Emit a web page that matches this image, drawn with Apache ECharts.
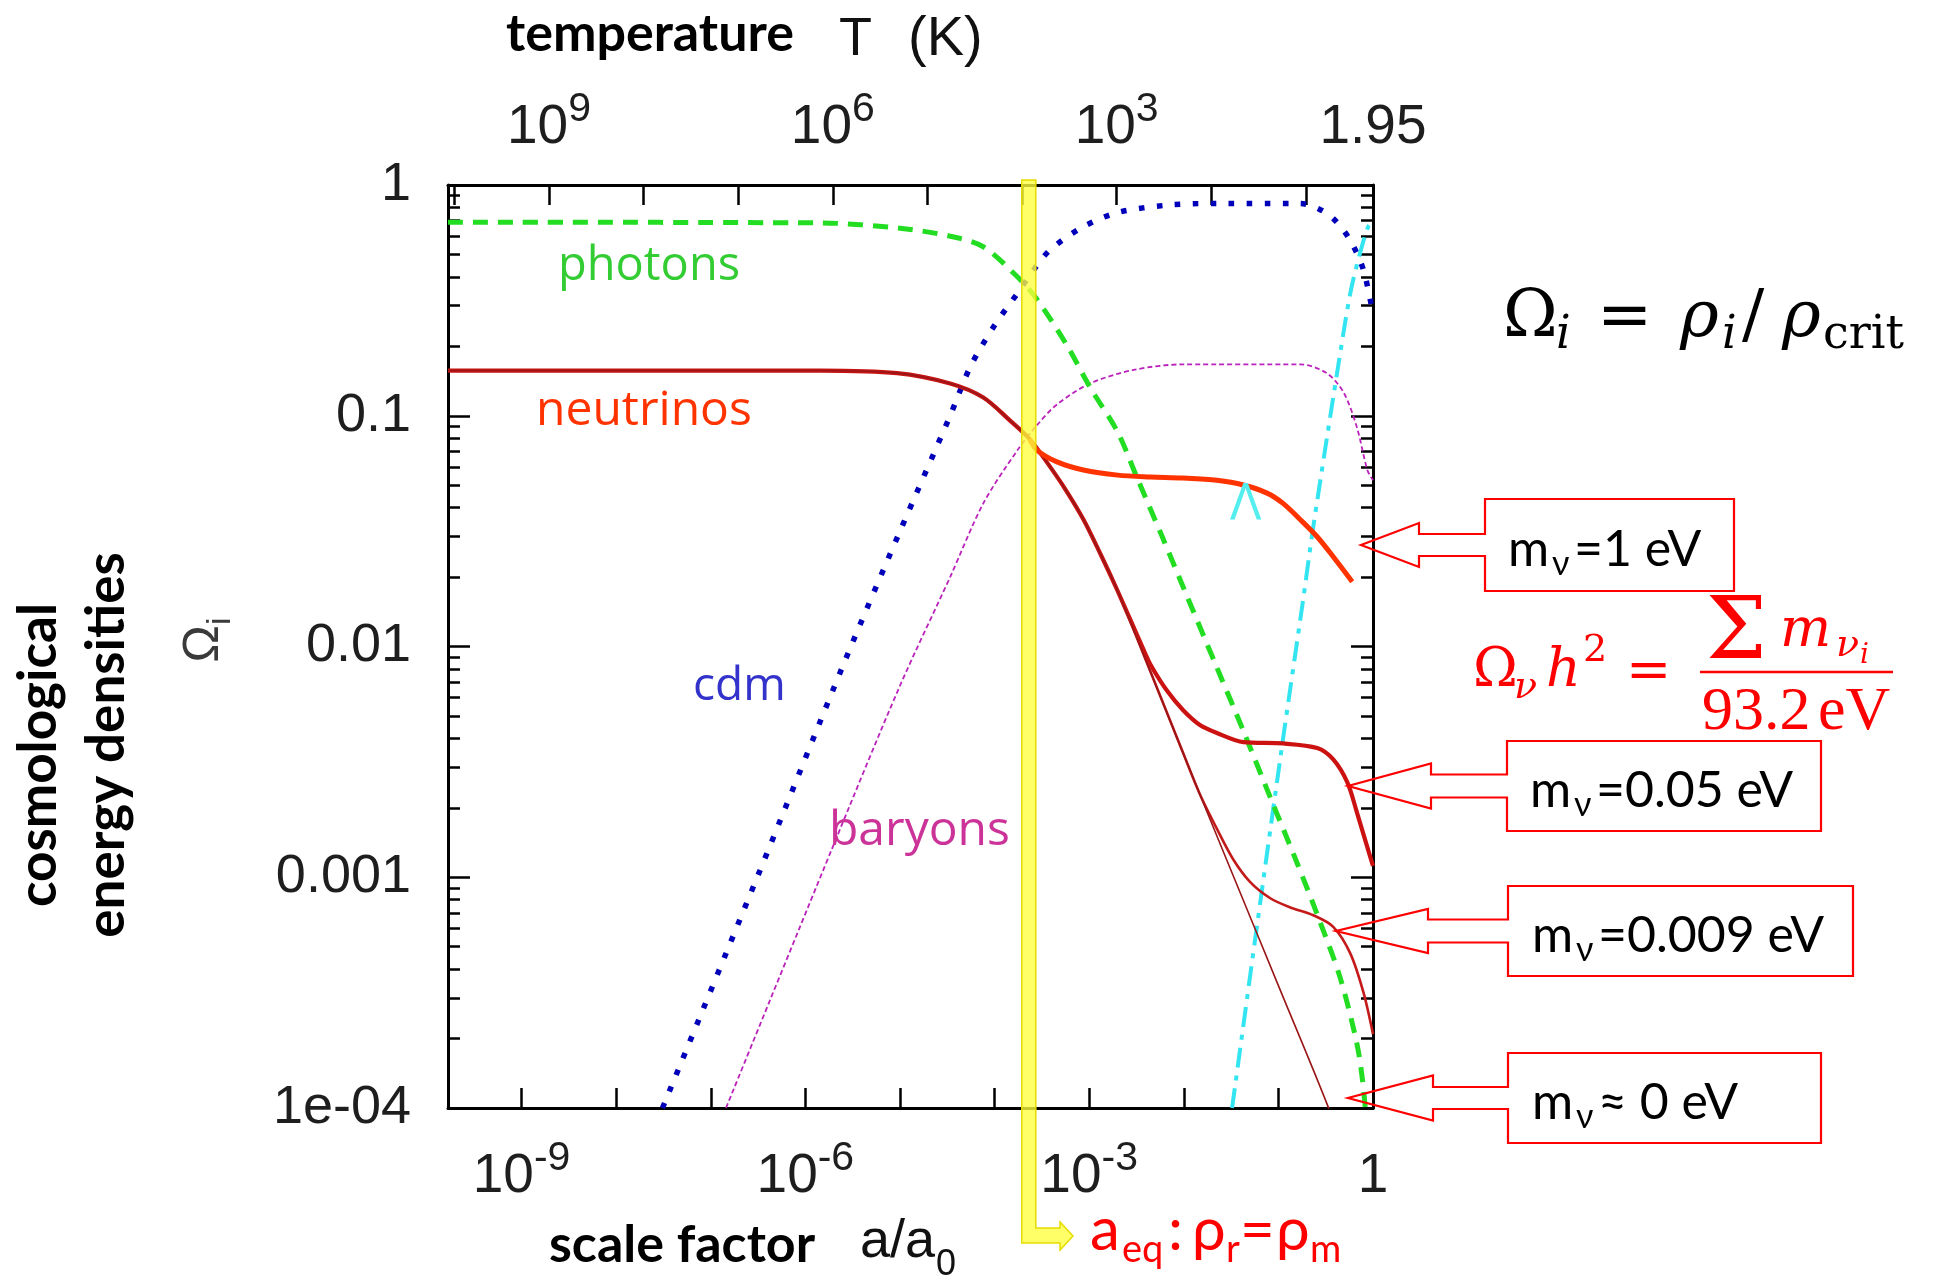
<!DOCTYPE html>
<html><head><meta charset="utf-8">
<script src="https://cdn.jsdelivr.net/npm/echarts@6/dist/echarts.min.js"></script>
<style>html,body{margin:0;padding:0;background:#fff}#chart{width:1934px;height:1281px}</style>
</head><body><div id="chart"></div>
<script>
// ---------- axis ranges & ticks ----------
const A_MIN = 1.67e-10, A_MAX = 1;          // scale factor a/a0
const T_TODAY = 1.95;                       // temperature at a = 1 (K)
const OMEGA_MIN = 1e-4, OMEGA_MAX = 1;
const scaleTicks  = [1e-9,1e-8,1e-7,1e-6,1e-5,1e-4,1e-3,1e-2,1e-1,1];
const scaleLabels = [1e-9,1e-6,1e-3,1];
const tempTicks   = [1e10,1e9,1e8,1e7,1e6,1e5,1e4,1e3,1e2,1e1];
const tempLabels  = [1e9,1e6,1e3,1.95];
const omegaTickValues = [1e-4,1e-3,1e-2,1e-1,1];
const omegaTickText   = ['1e-04','0.001','0.01','0.1','1'];
const aEq = 2.3e-4;

// ---------- series ----------
const photonsA = [1.67e-10,1.45e-6,1e-5,3.4e-5,7.6e-5,1.74e-4,2.8e-4,5.9e-4,1.02e-3,2.0e-3,3.2e-3,6.0e-3,9.8e-3,0.0224,0.0427,0.0813,0.158,0.257,0.447,0.676,0.785,0.87];
const photonsOmega = [0.69,0.685,0.65,0.60,0.54,0.40,0.32,0.20,0.133,0.085,0.054,0.0295,0.0182,0.0081,0.0043,0.00224,0.00115,6.9e-4,3.7e-4,1.9e-4,1.26e-4,7.9e-5];

const cdmA = [3.09e-8,3.16e-7,2.57e-6,1e-5,3.39e-5,5.5e-5,9.77e-5,1.74e-4,2.57e-4,3.89e-4,8.7e-4,2.0e-3,6.76e-3,0.0224,0.17,0.257,0.38,0.575,0.794,1];
const cdmOmega = [1e-4,1.02e-3,8.5e-3,0.0316,0.1,0.162,0.243,0.339,0.427,0.525,0.66,0.76,0.818,0.832,0.832,0.794,0.716,0.575,0.427,0.275];

const baryonsA = [1.45e-7,1.9e-6,1e-5,3.39e-5,7.6e-5,1.74e-4,2.82e-4,4.57e-4,1.02e-3,2.95e-3,9.8e-3,0.17,0.324,0.49,0.676,0.871,1];
const baryonsOmega = [1e-4,1.32e-3,6.76e-3,0.02,0.0417,0.0708,0.0912,0.112,0.138,0.158,0.167,0.167,0.153,0.126,0.0891,0.0582,0.0525];

const lambdaA = [0.0324,0.0589,0.112,0.182,0.234,0.417,0.575,0.724,0.891,1];
const lambdaOmega = [1e-4,6.0e-4,3.98e-3,0.0158,0.0331,0.153,0.339,0.501,0.661,0.69];

const nuCommonA = [1.67e-10,1.45e-6,9.3e-6,3.39e-5,7.6e-5,1.45e-4,2.34e-4];
const nuCommonOmega = [0.157,0.157,0.153,0.138,0.120,0.0955,0.0794];

const nuMasslessA = [3.55e-4,5.62e-4,8.7e-4,1.32e-3,2.0e-3,3.72e-3,0.01,0.0316,0.1,0.324,0.5];
const nuMasslessOmega = [0.0631,0.0479,0.0355,0.0251,0.0174,0.00933,0.00339,0.00107,3.39e-4,1.05e-4,6.3e-5];

const nu0009A = [3.55e-4,5.62e-4,8.7e-4,1.32e-3,2.0e-3,3.72e-3,9.8e-3,0.0148,0.0224,0.0331,0.0501,0.0813,0.132,0.234,0.38,0.575,0.794,1];
const nu0009Omega = [0.0631,0.0479,0.0355,0.0251,0.0174,0.00933,0.00347,0.00229,0.00162,0.0012,9.55e-4,8.13e-4,7.41e-4,6.84e-4,6.1e-4,4.68e-4,3.16e-4,2.09e-4];

const nu005A = [3.55e-4,5.62e-4,8.7e-4,1.32e-3,2.0e-3,3.72e-3,4.47e-3,6.6e-3,9.8e-3,0.0148,0.0224,0.0427,0.112,0.257,0.38,0.537,0.676,0.871,1];
const nu005Omega = [0.0631,0.0479,0.0355,0.0251,0.0174,0.00977,0.00832,0.00646,0.00531,0.00457,0.00422,0.00385,0.0038,0.00363,0.00324,0.00257,0.00191,0.00135,0.00112];

const nu1A = [2.82e-4,4.57e-4,8.7e-4,2.0e-3,4.47e-3,9.8e-3,0.0224,0.0427,0.0759,0.112,0.17,0.257,0.38,0.603];
const nu1Omega = [0.0708,0.0631,0.0582,0.0553,0.0543,0.0537,0.0525,0.0501,0.0462,0.0417,0.0355,0.0299,0.0245,0.0191];

// ---------- helpers ----------
const pair = (xs, ys) => xs.map((x, i) => [x, ys[i]]);
const mctx = document.createElement('canvas').getContext('2d');
function fstr(p){ return (p.style||'normal')+' '+(p.weight||'normal')+' '+p.fs+'px '+p.family; }
function tw(p){ mctx.font = fstr(p); return mctx.measureText(p.t).width; }
const KMID = 0.28;
function txt(x, baseline, t, fs, family, color, opt){
  opt = opt || {};
  return {type:'text', x:x, y: baseline - KMID*fs, z:100, silent:true,
    style:{text:t, fill:color, fontSize:fs, fontFamily:family, fontWeight:opt.weight||'normal',
      fontStyle:opt.style||'normal', align:opt.align||'left', textAlign:opt.align||'left',
      verticalAlign:'middle', textVerticalAlign:'middle'}};
}
function rotText(cx, cy, parts, color){
  let total = 0; parts.forEach(p => total += tw(p) + (p.dx||0));
  let x = -total/2; const children = [];
  parts.forEach(p => {
    x += p.dx||0;
    children.push({type:'text', x:x, y:(p.dy||0) - KMID*p.fs + 0.18*parts[0].fs, silent:true,
      style:{text:p.t, fill:p.color||color, fontSize:p.fs, fontFamily:p.family, fontWeight:p.weight||'normal',
        fontStyle:p.style||'normal', align:'left', textAlign:'left', verticalAlign:'middle', textVerticalAlign:'middle'}});
    x += tw(p);
  });
  return {type:'group', x:cx, y:cy, rotation:Math.PI/2, z:100, children:children};
}
function callout(tipX, tipY, headX, headH, shaftH, x1, y1, x2, y2){
  return {type:'polygon', z:90, silent:true,
    shape:{points:[[x1,y1],[x2,y1],[x2,y2],[x1,y2],[x1,tipY+shaftH],[headX,tipY+shaftH],[headX,tipY+headH],
      [tipX,tipY],[headX,tipY-headH],[headX,tipY-shaftH],[x1,tipY-shaftH]]},
    style:{fill:'none', stroke:'#ff0000', lineWidth:2.2}};
}
function powLabel(v){
  if (Math.abs(v - T_TODAY) < 1e-6) return '{b|1.95}';
  const e = Math.round(Math.log10(v));
  if (e === 0) return '{b|1}';
  return '{b|10}{s|' + e + '}';
}
const richPow = {
  b:{fontSize:55, fontFamily:'Liberation Sans', color:'#1e1e1e', lineHeight:66, verticalAlign:'bottom'},
  s:{fontSize:41, fontFamily:'Liberation Sans', color:'#1e1e1e', lineHeight:28, verticalAlign:'top'}
};
const axisLine = {show:true, onZero:false, lineStyle:{color:'#000', width:3}};

const SANS = 'Liberation Sans', BOLD = 'Lato', SERIF = 'DejaVu Serif', LBL = 'Open Sans';

function lineSeries(name, data, color, width, type, z){
  return {type:'line', name:name, data:data, xAxisIndex:0, yAxisIndex:0, showSymbol:false, symbol:'none',
    smooth:0.3, clip:true, z:z||2, silent:true,
    lineStyle:{color:color, width:width, type:type||'solid', cap:'butt', join:'round'}};
}

const chart = echarts.init(document.getElementById('chart'), null, {renderer:'canvas'});
const option = {
  animation:false,
  backgroundColor:'#ffffff',
  grid:{left:448, top:185, width:925, height:923, containLabel:false, outerBoundsMode:'none'},
  xAxis:[
    {type:'log', logBase:10, min:A_MIN, max:A_MAX, position:'bottom', axisLine:axisLine,
     axisTick:{show:true, inside:true, length:20, lineStyle:{color:'#000', width:2.5}, customValues:scaleTicks},
     axisLabel:{show:true, customValues:scaleLabels, margin:30, formatter:powLabel, rich:richPow},
     splitLine:{show:false}, minorTick:{show:false}},
    {type:'log', logBase:10, min:T_TODAY, max:T_TODAY/A_MIN, inverse:true, position:'top', axisLine:axisLine,
     axisTick:{show:true, inside:true, length:20, lineStyle:{color:'#000', width:2.5}, customValues:tempTicks},
     axisLabel:{show:true, customValues:tempLabels, margin:30, formatter:powLabel, rich:richPow},
     splitLine:{show:false}, minorTick:{show:false}}
  ],
  yAxis:[
    {type:'log', logBase:10, min:OMEGA_MIN, max:OMEGA_MAX, position:'left', axisLine:axisLine,
     axisTick:{show:true, inside:true, length:22, lineStyle:{color:'#000', width:2.5}, customValues:omegaTickValues},
     minorTick:{show:true, splitNumber:9, length:12, lineStyle:{color:'#000', width:2.5}},
     axisLabel:{show:true, customValues:omegaTickValues, margin:37, fontSize:54, fontFamily:SANS, color:'#1e1e1e',
       formatter:v => omegaTickText[Math.round(Math.log10(v)) + 4]},
     splitLine:{show:false}},
    {type:'log', logBase:10, min:OMEGA_MIN, max:OMEGA_MAX, position:'right', axisLine:axisLine,
     axisTick:{show:true, inside:true, length:22, lineStyle:{color:'#000', width:2.5}, customValues:omegaTickValues},
     minorTick:{show:true, splitNumber:9, length:12, lineStyle:{color:'#000', width:2.5}},
     axisLabel:{show:false}, splitLine:{show:false}}
  ],
  series:[
    lineSeries('baryons', pair(baryonsA, baryonsOmega), '#bb22bb', 1.8, [5,3], 2),
    lineSeries('cdm', pair(cdmA, cdmOmega), '#0000bb', 5.5, [5.5,12.5], 3),
    lineSeries('Lambda', pair(lambdaA, lambdaOmega), '#33e5f0', 4, [20,8,5,8], 3),
    lineSeries('photons', pair(photonsA, photonsOmega), '#22dd22', 5, [15,10], 4),
    lineSeries('m=0.05 eV', pair(nuCommonA.concat(nu005A), nuCommonOmega.concat(nu005Omega)), '#cc1111', 4.2, 'solid', 5),
    lineSeries('m=0.009 eV', pair(nuCommonA.concat(nu0009A), nuCommonOmega.concat(nu0009Omega)), '#c41a1a', 2.6, 'solid', 6),
    lineSeries('m=0 eV', pair(nuCommonA.concat(nuMasslessA), nuCommonOmega.concat(nuMasslessOmega)), '#9a1515', 1.6, 'solid', 7),
    lineSeries('m=1 eV', pair([nuCommonA[nuCommonA.length-1]].concat(nu1A), [nuCommonOmega[nuCommonOmega.length-1]].concat(nu1Omega)), '#ff3300', 5, 'solid', 8)
  ]
};
chart.setOption(option);

// ---------- annotations ----------
const xEq = chart.convertToPixel({xAxisIndex:0}, aEq);
const bx1 = xEq - 7, bx2 = xEq + 7;
const els = [];
els.push({type:'polygon', z:95, silent:true,
  shape:{points:[[bx1,180],[bx2,180],[bx2,1228],[1060,1228],[1060,1222],[1073,1236],[1060,1250],[1060,1243],[bx1,1243]]},
  style:{fill:'rgba(255,255,60,0.78)', stroke:'#e6dc00', lineWidth:1.5}});

// titles
els.push(txt(506, 49, 'temperature', 52, BOLD, '#000', {weight:'bold'}));
els.push(txt(839, 55, 'T', 54, SANS, '#111'));
els.push(txt(908, 55, '(K)', 56, SANS, '#111'));
els.push(txt(549, 1260, 'scale factor', 52, BOLD, '#000', {weight:'bold'}));
els.push(txt(860, 1257, 'a/a', 54, SANS, '#111'));
els.push(txt(936, 1275, '0', 36, SANS, '#111'));
els.push(rotText(44, 755, [{t:'cosmological', fs:53, family:BOLD, weight:'bold'}], '#000'));
els.push(rotText(112, 745, [{t:'energy densities', fs:53, family:BOLD, weight:'bold'}], '#000'));
els.push(rotText(209, 640, [{t:'Ω', fs:50, family:SANS}, {t:'i', fs:34, family:SANS, dy:12}], '#3a3a3a'));

// curve labels
els.push(txt(558, 280, 'photons', 47, LBL, '#33cc33'));
els.push(txt(536, 425, 'neutrinos', 48, LBL, '#ff3300'));
els.push(txt(693, 700, 'cdm', 46, LBL, '#3333cc'));
els.push(txt(829, 845, 'baryons', 48, LBL, '#cc3399'));
els.push(txt(1230, 520, 'Λ', 52, LBL, '#55eeee'));

// a_eq label
const R = '#ff0000';
els.push(txt(1090, 1247, 'a', 60, BOLD, R));
els.push(txt(1122, 1260, 'eq', 38, BOLD, R));
els.push(txt(1168, 1247, ':', 60, BOLD, R));
els.push(txt(1192, 1247, 'ρ', 60, BOLD, R));
els.push(txt(1226, 1260, 'r', 38, BOLD, R));
els.push(txt(1240, 1247, '=', 60, BOLD, R));
els.push(txt(1276, 1247, 'ρ', 60, BOLD, R));
els.push(txt(1310, 1260, 'm', 38, BOLD, R));

// formula Omega_i = rho_i / rho_crit
els.push(txt(1503, 337, 'Ω', 66, SERIF, '#000'));
els.push(txt(1556, 349, 'i', 46, SERIF, '#000', {style:'italic'}));
els.push(txt(1597, 337, '=', 66, SERIF, '#000'));
els.push(txt(1680, 337, 'ρ', 66, SERIF, '#000', {style:'italic'}));
els.push(txt(1722, 349, 'i', 46, SERIF, '#000', {style:'italic'}));
els.push(txt(1742, 337, '/', 66, SERIF, '#000'));
els.push(txt(1782, 337, 'ρ', 66, SERIF, '#000', {style:'italic'}));
els.push(txt(1823, 349, 'crit', 46, SERIF, '#000'));

// formula Omega_nu h^2 = sum m / 93.2 eV
els.push(txt(1473, 687, 'Ω', 54, SERIF, R));
els.push(txt(1514, 699, 'ν', 38, SERIF, R, {style:'italic'}));
els.push(txt(1546, 687, 'h', 54, SERIF, R, {style:'italic'}));
els.push(txt(1583, 662, '2', 38, SERIF, R));
els.push(txt(1626, 689, '=', 54, SERIF, R));
els.push(txt(1706, 660, 'Σ', 86, SERIF, R));
els.push(txt(1780, 647, 'm', 54, SERIF, R, {style:'italic'}));
els.push(txt(1836, 657, 'ν', 38, SERIF, R, {style:'italic'}));
els.push(txt(1860, 664, 'i', 28, SERIF, R, {style:'italic'}));
els.push({type:'line', z:100, silent:true, shape:{x1:1700, y1:672, x2:1893, y2:672}, style:{stroke:R, lineWidth:2.5}});
els.push(txt(1702, 730, '93.2', 62, 'Liberation Serif', R));
els.push(txt(1818, 730, 'eV', 62, 'Liberation Serif', R));

// call-out boxes
els.push(callout(1361, 545, 1419, 22, 11, 1485, 499, 1734, 591));
els.push(callout(1348, 786, 1431, 22.5, 11.5, 1507, 741, 1821, 831));
els.push(callout(1336, 931, 1428, 22, 11.5, 1508, 886, 1853, 976));
els.push(callout(1348, 1098, 1433, 22.5, 11, 1508, 1053, 1821, 1143));
const boxText = [
  [1508, 564, '=1 eV'],
  [1530, 805, '=0.05 eV'],
  [1532, 950, '=0.009 eV'],
  [1532, 1117, '≈ 0 eV']
];
boxText.forEach(b => {
  els.push(txt(b[0], b[1], 'm', 50, BOLD, '#000'));
  els.push(txt(b[0] + 44, b[1] + 10, 'ν', 34, BOLD, '#000'));
  els.push(txt(b[0] + 66, b[1], b[2], 50, BOLD, '#000'));
});

chart.setOption({graphic:{elements:els}});
</script></body></html>
